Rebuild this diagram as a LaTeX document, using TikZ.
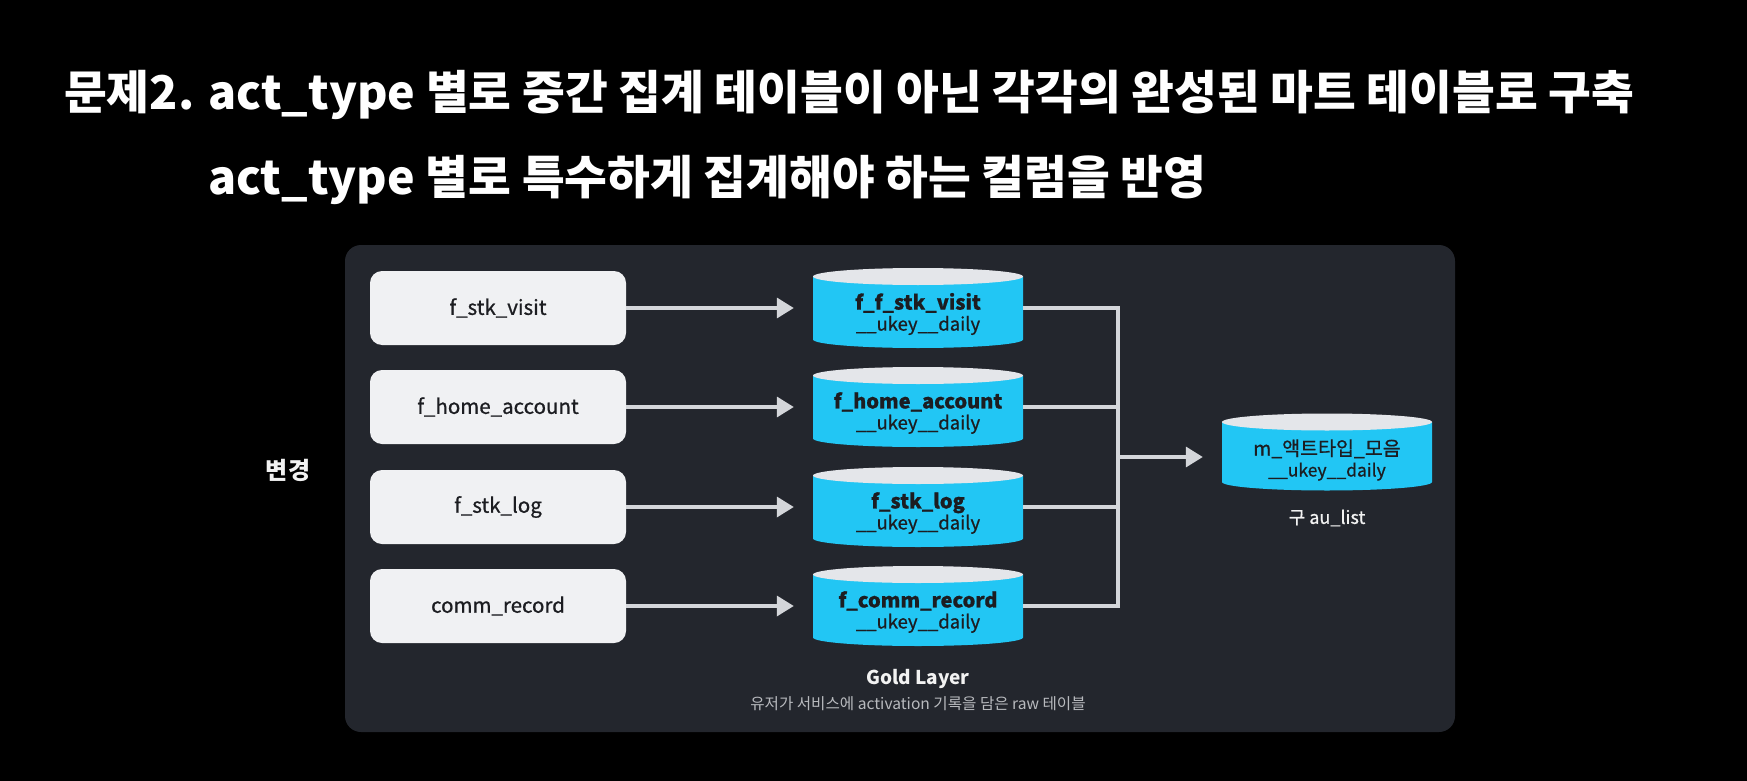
\documentclass[tikz,border=0pt]{standalone}
\usepackage{fontspec}
\setmainfont{Noto Sans CJK KR}
\newfontfamily\medfont[FakeBold=0.8]{Noto Sans CJK KR}
\usetikzlibrary{arrows.meta,calc}
\definecolor{panelbg}{HTML}{23262D}
\definecolor{boxfill}{HTML}{F0F1F3}
\definecolor{boxtext}{HTML}{1C1D21}
\definecolor{cylbody}{HTML}{22C6F4}
\definecolor{cyltop}{HTML}{E4E6EA}
\definecolor{linegray}{HTML}{D4D6DA}
\definecolor{subgray}{HTML}{B8BABE}
\tikzset{
  titletext/.style={text=white, anchor=west, inner sep=0pt, font=\fontsize{46.5}{52}\selectfont\bfseries},
  srcbox/.style={fill=boxfill, rounded corners=12pt, minimum width=256pt, minimum height=74pt, inner sep=0pt, text=boxtext, font=\medfont\fontsize{20.5}{22}\selectfont},
  cylnode/.style={minimum width=210pt, minimum height=80pt, inner sep=0pt, draw=none,
    path picture={
      \fill[cylbody] ($(path picture bounding box.north west)+(0,-8.5)$) -- ($(path picture bounding box.south west)+(0,8.5)$)
        arc[start angle=180, end angle=360, x radius=105, y radius=8.5]
        -- ($(path picture bounding box.north east)+(0,-8.5)$) -- cycle;
      \fill[cyltop] ($(path picture bounding box.north)+(0,-8.5)$) ellipse[x radius=105, y radius=8.5];
    }},
  cyltext/.style={align=center, text=boxtext, inner sep=0pt, font=\medfont\fontsize{18.5}{21}\selectfont},
  flow/.style={draw=linegray, line width=3.5pt},
  flowarrow/.style={flow, -{Triangle[width=20pt,length=17pt]}, shorten >=19pt},
  whitelabel/.style={text=white!90!gray, inner sep=0pt},
}
\newcommand{\firstline}[1]{{\fontsize{20}{21}\selectfont\bfseries #1}}
\begin{document}
\begin{tikzpicture}[x=1pt,y=1pt]
\fill[black] (0,0) rectangle (1747,-781);
\useasboundingbox (0,0) rectangle (1747,-781);

% titles
\node[titletext] (title1) at (64,-95) {문제2. act\_type 별로 중간 집계 테이블이 아닌 각각의 완성된 마트 테이블로 구축};
\node[titletext] (title2) at (208,-180) {act\_type 별로 특수하게 집계해야 하는 컬럼을 반영};

% panel
\fill[panelbg, rounded corners=16pt] (345,-245) rectangle (1455,-732);

\node[whitelabel, font=\fontsize{24}{26}\selectfont\bfseries] (change) at (288,-470) {변경};

% source boxes
\node[srcbox] (b1) at (498,-308) {f\_stk\_visit};
\node[srcbox] (b2) at (498,-407) {f\_home\_account};
\node[srcbox] (b3) at (498,-507) {f\_stk\_log};
\node[srcbox] (b4) at (498,-606) {comm\_record};

% gold cylinders
\node[cylnode] (c1) at (918,-308) {};
\node[cylnode] (c2) at (918,-407) {};
\node[cylnode] (c3) at (918,-507) {};
\node[cylnode] (c4) at (918,-606) {};
\node[cyltext] (c1t) at ([yshift=-6pt]c1.center) {\firstline{f\_f\_stk\_visit}\\\_\_ukey\_\_daily};
\node[cyltext] (c2t) at ([yshift=-6pt]c2.center) {\firstline{f\_home\_account}\\\_\_ukey\_\_daily};
\node[cyltext] (c3t) at ([yshift=-6pt]c3.center) {\firstline{f\_stk\_log}\\\_\_ukey\_\_daily};
\node[cyltext] (c4t) at ([yshift=-6pt]c4.center) {\firstline{f\_comm\_record}\\\_\_ukey\_\_daily};

% mart cylinder
\node[cylnode, minimum height=77pt] (m) at (1327,-452) {};
\node[cyltext] (mt) at ([yshift=-8pt]m.center) {{\fontsize{19.5}{21}\selectfont m\_액트타입\_모음}\\{\fontsize{17.5}{20}\selectfont\_\_ukey\_\_daily}};
\node[whitelabel, font=\medfont\fontsize{18}{20}\selectfont] (aulist) at (1327,-518) {구 au\_list};

% labels
\node[whitelabel, font=\fontsize{19}{21}\selectfont\bfseries] (gold) at (918,-679) {Gold Layer};
\node[text=subgray, inner sep=0pt, font=\fontsize{15.6}{17}\selectfont] (goldsub) at (918,-704) {유저가 서비스에 activation 기록을 담은 raw 테이블};

% arrows
\foreach \i in {1,2,3,4} {
  \draw[flowarrow] (b\i.east) -- (c\i.west);
}
\coordinate (junc) at (1118,-457);
\foreach \i in {1,2,3,4} {
  \draw[flow] (c\i.east) -| (junc);
}
\draw[flowarrow] (junc) -- (m.west |- junc);
\end{tikzpicture}
\end{document}
